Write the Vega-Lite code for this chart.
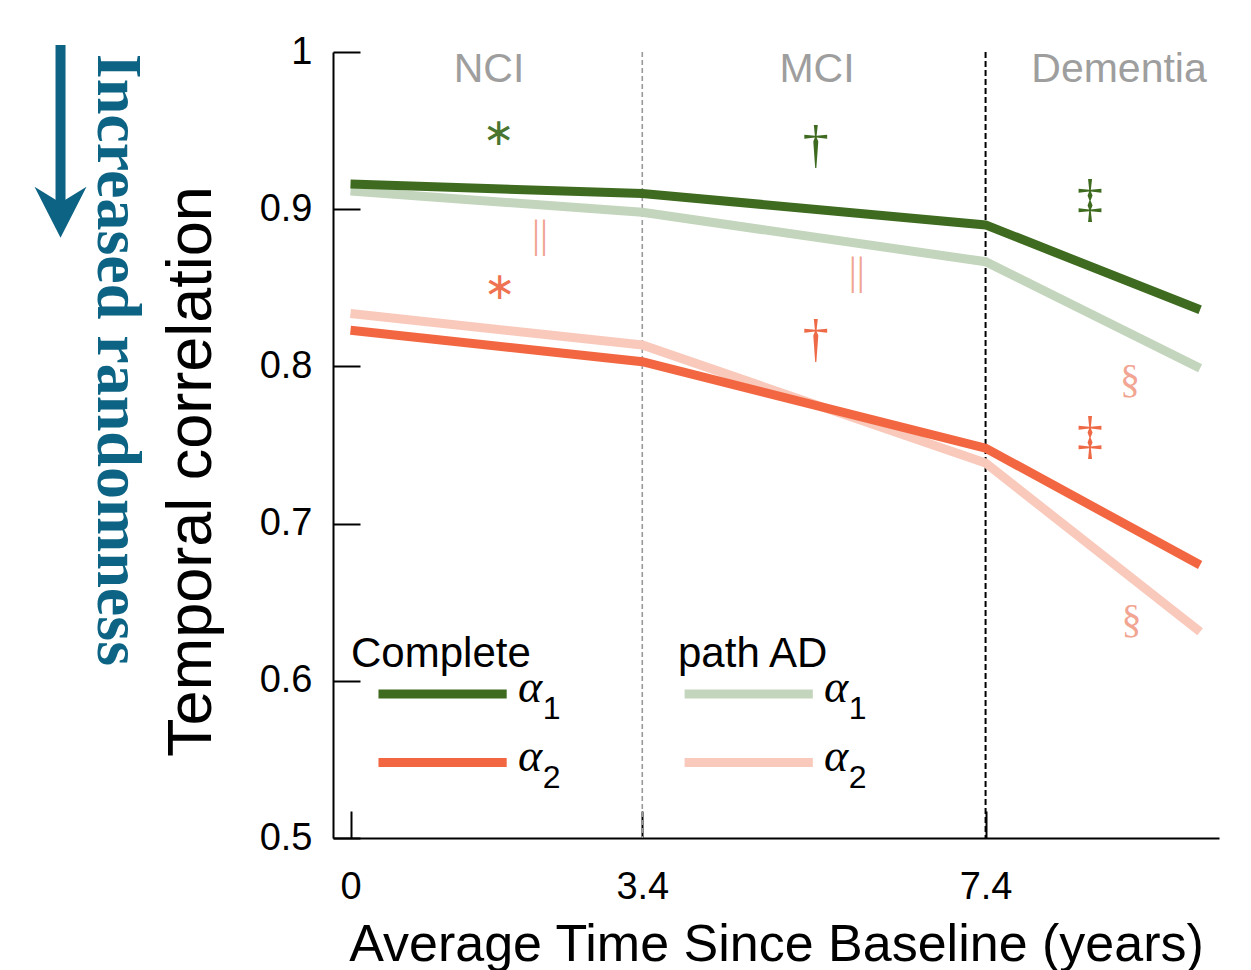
{
  "$schema": "https://vega.github.io/schema/vega-lite/v6.json",
  "width": 886,
  "height": 786,
  "autosize": {"type": "none"},
  "padding": {"left": 333, "top": 52, "right": 32, "bottom": 132},
  "background": "white",
  "config": {"view": {"stroke": null}, "font": "Liberation Sans", "axis": {"grid": false}},
  "layer": [
    {
      "data": {"values": [
        {"x": 3.4, "y": 1, "y2": 0.5}
      ]},
      "mark": {"type": "rule", "color": "#9a9a9a", "strokeWidth": 1.6, "strokeDash": [5, 3]},
      "encoding": {
        "x": {"field": "x", "type": "quantitative", "scale": {"domain": [-0.204, 10.12], "nice": false, "zero": false},
          "axis": {
            "values": [0, 3.4, 7.4], "format": "~g",
            "tickSize": -27, "tickWidth": 2, "tickColor": "black",
            "domainColor": "black", "domainWidth": 2,
            "labelFont": "Liberation Sans", "labelFontSize": 38, "labelColor": "black", "labelPadding": 57,
            "title": "Average Time Since Baseline (years)", "titleFont": "Liberation Sans", "titleFontSize": 52,
            "titleFontWeight": "normal", "titleColor": "black", "titleBaseline": "alphabetic", "titleY": 122
          }},
        "y": {"field": "y", "type": "quantitative", "scale": {"domain": [0.5, 1], "nice": false, "zero": false},
          "axis": {
            "values": [0.5, 0.6, 0.7, 0.8, 0.9, 1], "format": "~g",
            "tickSize": -27, "tickWidth": 2, "tickColor": "black",
            "domainColor": "black", "domainWidth": 2,
            "labelFont": "Liberation Sans", "labelFontSize": 38, "labelColor": "black", "labelPadding": 48,
            "title": "Temporal correlation", "titleFont": "Liberation Sans", "titleFontSize": 63,
            "titleFontWeight": "normal", "titleColor": "black", "titleAngle": -90,
            "titleBaseline": "alphabetic", "titleAlign": "center", "titleX": -123, "titleY": 419
          }},
        "y2": {"field": "y2"}
      }
    },
    {
      "data": {"values": [
        {"x": 7.4, "y": 1, "y2": 0.5}
      ]},
      "mark": {"type": "rule", "color": "black", "strokeWidth": 2, "strokeDash": [6, 3]},
      "encoding": {
        "x": {"field": "x", "type": "quantitative"},
        "y": {"field": "y", "type": "quantitative"},
        "y2": {"field": "y2"}
      }
    },
    {
      "data": {"values": [
        {"series": "path AD α1", "x": 0, "y": 0.9116},
        {"series": "path AD α1", "x": 3.4, "y": 0.898},
        {"series": "path AD α1", "x": 7.4, "y": 0.8666},
        {"series": "path AD α1", "x": 9.9, "y": 0.7988},
        {"series": "path AD α2", "x": 0, "y": 0.8336},
        {"series": "path AD α2", "x": 3.4, "y": 0.8136},
        {"series": "path AD α2", "x": 7.4, "y": 0.7385},
        {"series": "path AD α2", "x": 9.9, "y": 0.6312},
        {"series": "Complete α1", "x": 0, "y": 0.916},
        {"series": "Complete α1", "x": 3.4, "y": 0.910},
        {"series": "Complete α1", "x": 7.4, "y": 0.890},
        {"series": "Complete α1", "x": 9.9, "y": 0.836},
        {"series": "Complete α2", "x": 0, "y": 0.823},
        {"series": "Complete α2", "x": 3.4, "y": 0.803},
        {"series": "Complete α2", "x": 7.4, "y": 0.748},
        {"series": "Complete α2", "x": 9.9, "y": 0.6737}
      ]},
      "mark": {"type": "line", "strokeWidth": 9, "strokeCap": "butt", "strokeJoin": "miter"},
      "encoding": {
        "x": {"field": "x", "type": "quantitative"},
        "y": {"field": "y", "type": "quantitative"},
        "color": {"field": "series", "type": "nominal", "legend": null,
          "scale": {"domain": ["path AD α1", "path AD α2", "Complete α1", "Complete α2"],
                    "range": ["#c3d5bc", "#f9c9bb", "#3e6b1f", "#f26741"]}}
      }
    },
    {
      "data": {"values": [
        {"series": "Complete α1", "x": 0.326, "x2": 1.82, "y": 0.5916},
        {"series": "Complete α2", "x": 0.326, "x2": 1.82, "y": 0.548},
        {"series": "path AD α1", "x": 3.893, "x2": 5.387, "y": 0.5916},
        {"series": "path AD α2", "x": 3.893, "x2": 5.387, "y": 0.548}
      ]},
      "mark": {"type": "rule", "strokeWidth": 9, "strokeCap": "butt"},
      "encoding": {
        "x": {"field": "x", "type": "quantitative"},
        "x2": {"field": "x2"},
        "y": {"field": "y", "type": "quantitative"},
        "color": {"field": "series", "type": "nominal", "legend": null}
      }
    },
    {
      "data": {"values": [
        {"x": 0.006, "y": 0.6088, "text": "Complete"},
        {"x": 3.816, "y": 0.6088, "text": "path AD"}
      ]},
      "mark": {"type": "text", "font": "Liberation Sans", "fontSize": 42, "color": "black", "align": "left", "baseline": "alphabetic"},
      "encoding": {
        "x": {"field": "x", "type": "quantitative"},
        "y": {"field": "y", "type": "quantitative"},
        "text": {"field": "text"}
      }
    },
    {
      "data": {"values": [
        {"x": 1.952, "y": 0.5865, "text": "α"},
        {"x": 1.952, "y": 0.5426, "text": "α"},
        {"x": 5.517, "y": 0.5865, "text": "α"},
        {"x": 5.517, "y": 0.5426, "text": "α"}
      ]},
      "mark": {"type": "text", "font": "Liberation Serif", "fontStyle": "italic", "fontSize": 46, "color": "black", "align": "left", "baseline": "alphabetic"},
      "encoding": {
        "x": {"field": "x", "type": "quantitative"},
        "y": {"field": "y", "type": "quantitative"},
        "text": {"field": "text"}
      }
    },
    {
      "data": {"values": [
        {"x": 2.24, "y": 0.5757, "text": "1"},
        {"x": 2.24, "y": 0.5318, "text": "2"},
        {"x": 5.805, "y": 0.5757, "text": "1"},
        {"x": 5.805, "y": 0.5318, "text": "2"}
      ]},
      "mark": {"type": "text", "font": "Liberation Sans", "fontSize": 32, "color": "black", "align": "left", "baseline": "alphabetic"},
      "encoding": {
        "x": {"field": "x", "type": "quantitative"},
        "y": {"field": "y", "type": "quantitative"},
        "text": {"field": "text"}
      }
    },
    {
      "data": {"values": [
        {"x": 1.614, "y": 0.9885, "text": "NCI"},
        {"x": 5.436, "y": 0.9885, "text": "MCI"},
        {"x": 8.955, "y": 0.9885, "text": "Dementia"}
      ]},
      "mark": {"type": "text", "font": "Liberation Sans", "fontSize": 41, "color": "#9e9e9e", "align": "center", "baseline": "middle"},
      "encoding": {
        "x": {"field": "x", "type": "quantitative"},
        "y": {"field": "y", "type": "quantitative"},
        "text": {"field": "text"}
      }
    },
    {
      "data": {"values": [
        {"x": 1.73, "y": 0.948, "text": "∗"}
      ]},
      "mark": {"type": "text", "font": "DejaVu Sans", "fontSize": 38, "color": "#4a7530", "align": "center", "baseline": "middle"},
      "encoding": {
        "x": {"field": "x", "type": "quantitative"},
        "y": {"field": "y", "type": "quantitative"},
        "text": {"field": "text"}
      }
    },
    {
      "data": {"values": [
        {"x": 1.742, "y": 0.8496, "text": "∗"}
      ]},
      "mark": {"type": "text", "font": "DejaVu Sans", "fontSize": 38, "color": "#ef7352", "align": "center", "baseline": "middle"},
      "encoding": {
        "x": {"field": "x", "type": "quantitative"},
        "y": {"field": "y", "type": "quantitative"},
        "text": {"field": "text"}
      }
    },
    {
      "data": {"values": [
        {"x": 5.42, "y": 0.9402, "text": "†"},
        {"x": 8.617, "y": 0.9059, "text": "‡"}
      ]},
      "mark": {"type": "text", "font": "Liberation Serif", "fontSize": 52, "color": "#3e6b1f", "align": "center", "baseline": "middle"},
      "encoding": {
        "x": {"field": "x", "type": "quantitative"},
        "y": {"field": "y", "type": "quantitative"},
        "text": {"field": "text"}
      }
    },
    {
      "data": {"values": [
        {"x": 5.42, "y": 0.8168, "text": "†"},
        {"x": 8.617, "y": 0.7548, "text": "‡"}
      ]},
      "mark": {"type": "text", "font": "Liberation Serif", "fontSize": 52, "color": "#ee6a47", "align": "center", "baseline": "middle"},
      "encoding": {
        "x": {"field": "x", "type": "quantitative"},
        "y": {"field": "y", "type": "quantitative"},
        "text": {"field": "text"}
      }
    },
    {
      "data": {"values": [
        {"x": 2.208, "y": 0.8836, "text": "||"},
        {"x": 5.9, "y": 0.86, "text": "||"},
        {"x": 9.083, "y": 0.7913, "text": "§"},
        {"x": 9.1, "y": 0.6387, "text": "§"}
      ]},
      "mark": {"type": "text", "font": "Liberation Serif", "fontSize": 40, "color": "#f1a592", "align": "center", "baseline": "middle"},
      "encoding": {
        "x": {"field": "x", "type": "quantitative"},
        "y": {"field": "y", "type": "quantitative"},
        "text": {"field": "text"}
      }
    },
    {
      "data": {"values": [
        {"x": -3.379, "y": 1.0045, "y2": 0.9003}
      ]},
      "mark": {"type": "rule", "color": "#0c6383", "strokeWidth": 10, "strokeCap": "butt"},
      "encoding": {
        "x": {"field": "x", "type": "quantitative"},
        "y": {"field": "y", "type": "quantitative"},
        "y2": {"field": "y2"}
      }
    },
    {
      "data": {"values": [
        {"x": -3.379, "y": 0.898}
      ]},
      "mark": {"type": "point", "shape": "M0,0.98L-1,-0.98L0,-0.37L1,-0.98Z", "filled": true, "size": 2704, "opacity": 1, "color": "#0c6383"},
      "encoding": {
        "x": {"field": "x", "type": "quantitative"},
        "y": {"field": "y", "type": "quantitative"}
      }
    },
    {
      "data": {"values": [
        {"x": -2.942, "y": 0.8041, "text": "Increased randomness"}
      ]},
      "mark": {"type": "text", "font": "Liberation Serif", "fontWeight": "bold", "fontSize": 64, "color": "#0c6383", "align": "center", "baseline": "alphabetic", "angle": 90},
      "encoding": {
        "x": {"field": "x", "type": "quantitative"},
        "y": {"field": "y", "type": "quantitative"},
        "text": {"field": "text"}
      }
    }
  ]
}
